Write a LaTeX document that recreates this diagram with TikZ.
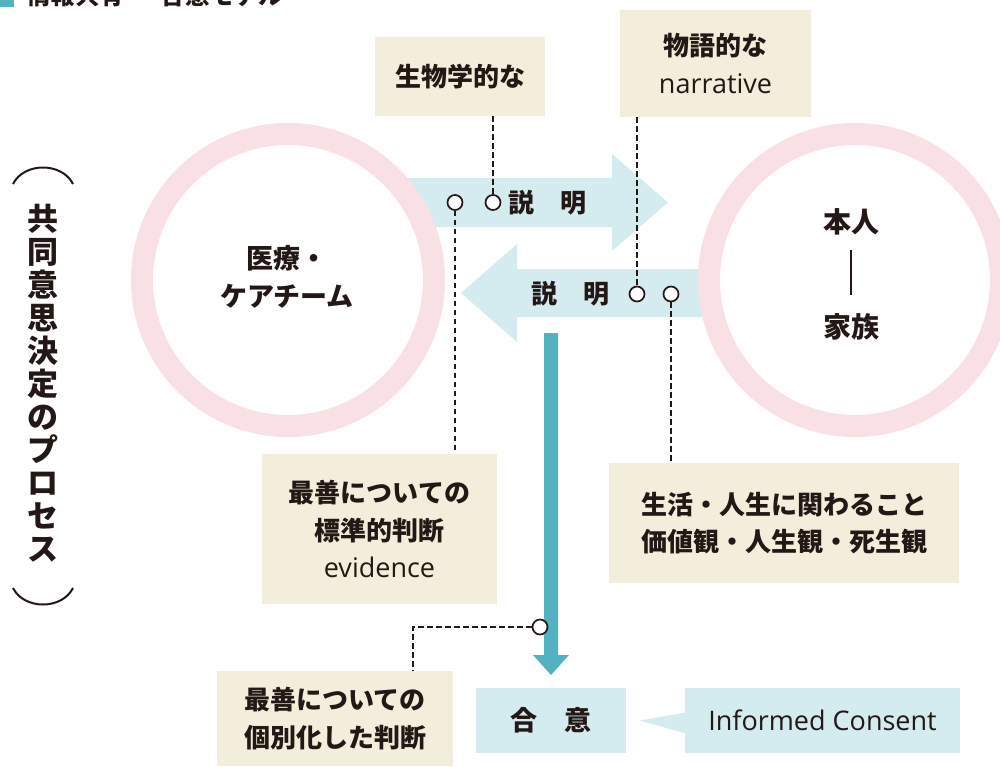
\documentclass[tikz,border=0pt]{standalone}
\usepackage{fontspec}
\usetikzlibrary{calc}
\newfontfamily\jp{Noto Sans CJK JP}
\newfontfamily\lat{Open Sans}
\definecolor{ink}{HTML}{231815}
\definecolor{beige}{HTML}{F3EEDB}
\definecolor{lblue}{HTML}{D4EBF0}
\definecolor{pinkring}{HTML}{F9E0E5}
\definecolor{tealc}{HTML}{52B2C2}
\begin{document}
\begin{tikzpicture}[x=1pt,y=-1pt,
  beigebox/.style={fill=beige, inner sep=0pt, align=center, text=ink,
    font=\jp\bfseries\fontsize{26}{37.5}\selectfont},
  bluebox/.style={fill=lblue, inner sep=0pt, align=center, text=ink},
  dot/.style={circle, draw=ink, fill=white, line width=1.7pt, minimum size=15pt, inner sep=0pt},
  dashline/.style={draw=ink, line width=1.7pt, dash pattern=on 5.5pt off 3.5pt},
  ring/.style={circle, draw=pinkring, fill=white, line width=22pt, minimum size=292pt, inner sep=0pt},
  label/.style={text=ink, inner sep=0pt, align=center}
]
\useasboundingbox (0,0) rectangle (1000,766);

% title (cut off at top)
\fill[tealc] (0,-10) rectangle (14,7);
\node[label, anchor=base west, font=\jp\bfseries\fontsize{24.5}{26}\selectfont] (title) at (26,4) {情報共有\kern6pt－\kern6pt合意モデル};

% big arrows
\fill[lblue] (380,178) -- (612,178) -- (612,154) -- (668,202.5) -- (612,251) -- (612,227) -- (380,227) -- cycle;
\fill[lblue] (760,269) -- (517,269) -- (517,244) -- (461,293) -- (517,342) -- (517,317) -- (760,317) -- cycle;
\fill[tealc] (544,333) -- (558,333) -- (558,655) -- (569,655) -- (551,675) -- (533,655) -- (544,655) -- cycle;

% rings
\node[ring] (team) at (288,280) {};
\node[ring] (self) at (855,280) {};

\node[label, font=\jp\bfseries\fontsize{27}{38}\selectfont] (teamtxt) at (287,277) {医療・\\ケアチーム};
\node[label, font=\jp\bfseries\fontsize{28}{30}\selectfont] (honin) at (851,222) {本人};
\node[label, font=\jp\bfseries\fontsize{28}{30}\selectfont] (kazoku) at (851,327) {家族};
\draw[ink, line width=1.5pt] ($(honin)+(0,28)$) -- ($(kazoku)+(0,-32)$);

% explanation labels
\node[label, font=\jp\bfseries\fontsize{26}{30}\selectfont] (exp1) at (547,203) {説　明};
\node[label, font=\jp\bfseries\fontsize{26}{30}\selectfont] (exp2) at (570,294) {説　明};

% boxes
\node[beigebox, minimum width=170pt, minimum height=79pt] (bio) at (460,76.5) {生物学的な};
\node[beigebox, minimum width=191pt, minimum height=107pt] (narr) at (715.5,63.5) {物語的な\\{\lat\mdseries\fontsize{27}{37.5}\selectfont narrative}};
\node[beigebox, minimum width=235pt, minimum height=150pt] (evid) at (379.5,529) {最善についての\\標準的判断\\{\lat\mdseries\fontsize{27}{37.5}\selectfont evidence}};
\node[beigebox, minimum width=350pt, minimum height=120pt] (life) at (784,523) {生活・人生に関わること\\価値観・人生観・死生観};
\node[beigebox, minimum width=236pt, minimum height=95pt] (indiv) at (335,718.5) {最善についての\\個別化した判断};
\node[bluebox, minimum width=150pt, minimum height=65pt, font=\jp\bfseries\fontsize{27}{30}\selectfont] (agree) at (551,720.5) {合　意};
\node[bluebox, minimum width=275pt, minimum height=65pt, font=\lat\fontsize{27}{30}\selectfont] (ic) at (822.5,720.5) {Informed Consent};
\fill[lblue] ($(ic.west)+(-45,0)$) -- ($(ic.west)+(1,-8)$) -- ($(ic.west)+(1,13)$) -- cycle;

% dots
\node[dot] (d1) at (455,202.5) {};
\node[dot] (d2) at (493,202.5) {};
\node[dot] (d3) at (637,294) {};
\node[dot] (d4) at (671,294) {};
\node[dot] (d5) at (540,627) {};

% dashed leaders
\draw[dashline] (d2 |- bio.south) -- (d2.north);
\draw[dashline] (d3 |- narr.south) -- (d3.north);
\draw[dashline] (d1.south) -- (d1 |- evid.north);
\draw[dashline] (d4.south) -- (d4 |- life.north);
\coordinate (bend) at (413,627);
\draw[dashline] (d5.west) -- (bend) -- (bend |- indiv.north);

% vertical heading
\node[label, font=\jp\bfseries\fontsize{31}{33}\selectfont] (sdm) at (43,383) {共\\同\\意\\思\\決\\定\\の\\プ\\ロ\\セ\\ス};
\draw[ink, line width=2pt] (13,184) .. controls (24,162) and (62,162) .. (73,184);
\draw[ink, line width=2pt] (13,588) .. controls (24,610) and (62,610) .. (73,588);
\end{tikzpicture}
\end{document}
